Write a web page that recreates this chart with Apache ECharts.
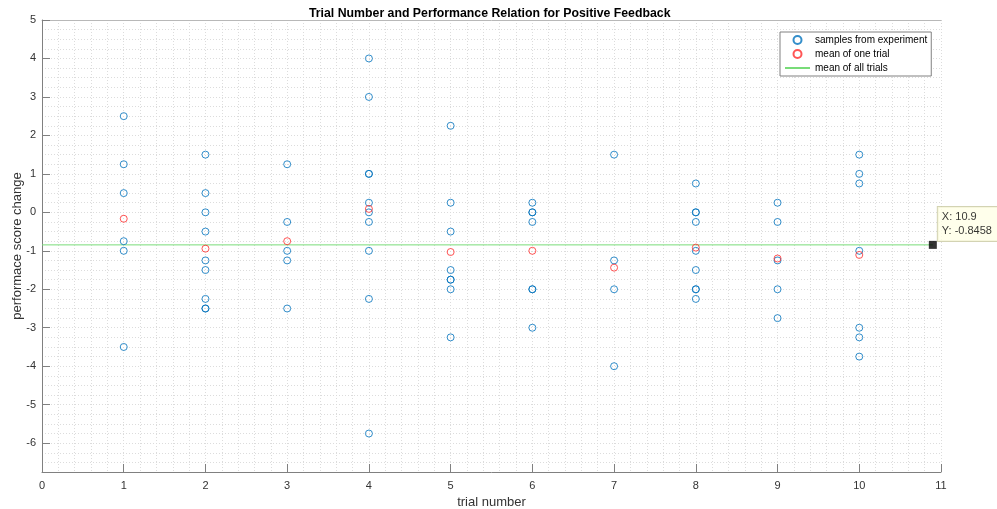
<!DOCTYPE html>
<html>
<head>
<meta charset="utf-8">
<script src="https://cdn.jsdelivr.net/npm/echarts@6/dist/echarts.min.js"></script>
<style>
  html, body { margin: 0; background: #fff; }
  #chart { width: 997px; height: 509px; }
</style>
</head>
<body>
<div id="chart"></div>
<script>
// values
const trialNumbers = [1, 2, 3, 4, 5, 6, 7, 8, 9, 10];
const samplesByTrial = [
  [2.5, 1.25, 0.5, -0.75, -1, -3.5],
  [1.5, 0.5, 0, -0.5, -1.25, -1.5, -2.25, -2.5, -2.5],
  [1.25, -0.25, -1, -1.25, -2.5],
  [4, 3, 1, 1, 0.25, 0, -0.25, -1, -2.25, -5.75],
  [2.25, 0.25, -0.5, -1.5, -1.75, -1.75, -2, -3.25],
  [0.25, 0, 0, -0.25, -2, -2, -3],
  [1.5, -1.25, -2, -4],
  [0.75, 0, 0, -0.25, -1, -1.5, -2, -2, -2.25],
  [0.25, -0.25, -1.25, -2, -2.75],
  [1.5, 1, 0.75, -1, -3, -3.25, -3.75]
];
const trialMeans = [-0.167, -0.944, -0.75, 0.09, -1.031, -1, -1.4375, -0.917, -1.2, -1.107];
const overallMean = -0.8458;
const tipX = 10.9;
const yTickValues = [-6, -5, -4, -3, -2, -1, 0, 1, 2, 3, 4, 5];

const sampleData = [];
samplesByTrial.forEach((list, i) => {
  list.forEach(v => sampleData.push([trialNumbers[i], v]));
});
const meanData = trialMeans.map((v, i) => [trialNumbers[i], v]);

const FONT = 'Liberation Sans, Arial, Helvetica, sans-serif';
const AXIS_GRAY = '#808080';
const GRID_LINE = { show: true, lineStyle: { color: '#dcdcdc', type: [1, 2], width: 1 } };

const chart = echarts.init(document.getElementById('chart'), null, { renderer: 'canvas' });

chart.setOption({
  animation: false,
  backgroundColor: '#fff',
  textStyle: { fontFamily: FONT },
  title: {
    text: 'Trial Number and Performance Relation for Positive Feedback',
    left: 304,
    top: 3,
    textStyle: { fontSize: 12.3, fontWeight: 'bold', color: '#000', fontFamily: FONT }
  },
  grid: { left: 42, right: 56, top: 20, bottom: 37, containLabel: false, outerBoundsMode: 'none' },
  legend: {
    orient: 'vertical',
    left: 780,
    top: 32,
    padding: [3, 4, 3, 4],
    itemGap: 4,
    itemWidth: 25,
    itemHeight: 8,
    backgroundColor: '#fff',
    borderColor: AXIS_GRAY,
    borderWidth: 1,
    textStyle: { fontSize: 10, color: '#000', fontFamily: FONT },
    data: [
      'samples from experiment',
      'mean of one trial',
      { name: 'mean of all trials', itemStyle: { opacity: 0 } }
    ]
  },
  xAxis: [{
    type: 'value',
    min: 0,
    max: 11,
    interval: 1,
    name: 'trial number',
    nameLocation: 'middle',
    nameGap: 23,
    nameTextStyle: { fontSize: 13, color: '#333' },
    axisLine: { show: true, onZero: false, lineStyle: { color: AXIS_GRAY } },
    axisTick: { show: true, inside: true, length: 8, lineStyle: { color: AXIS_GRAY } },
    axisLabel: { color: '#333', fontSize: 11, margin: 8 },
    splitLine: GRID_LINE,
    minorTick: { show: false, splitNumber: 5 },
    minorSplitLine: GRID_LINE
  }, {
    type: 'value',
    position: 'top',
    min: 0,
    max: 11,
    axisLine: { show: true, onZero: false, lineStyle: { color: '#b8b8b8' } },
    axisTick: { show: false },
    axisLabel: { show: false },
    splitLine: { show: false }
  }],
  yAxis: [{
    type: 'value',
    min: -6.75,
    max: 5,
    interval: 0.25,
    axisLine: { show: false, onZero: false },
    axisTick: { show: false },
    axisLabel: { show: false },
    splitLine: GRID_LINE
  }, {
    type: 'value',
    position: 'left',
    min: -6.75,
    max: 5,
    name: 'performace score change',
    nameLocation: 'middle',
    nameGap: 18,
    nameMoveOverlap: false,
    nameTextStyle: { fontSize: 13, color: '#333' },
    axisLine: { show: true, onZero: false, lineStyle: { color: AXIS_GRAY } },
    axisTick: { show: true, inside: true, length: 8, customValues: yTickValues, lineStyle: { color: AXIS_GRAY } },
    axisLabel: { color: '#333', fontSize: 11, margin: 6, customValues: yTickValues },
    splitLine: { show: false }
  }],
  series: [{
    name: 'samples from experiment',
    type: 'scatter',
    symbol: 'circle',
    symbolSize: 7,
    itemStyle: { color: 'rgba(255,255,255,0)', borderColor: '#0072BD', borderWidth: 1 },
    data: sampleData,
    z: 3
  }, {
    name: 'mean of one trial',
    type: 'scatter',
    symbol: 'circle',
    symbolSize: 7,
    itemStyle: { color: 'rgba(255,255,255,0)', borderColor: '#ff2a2a', borderWidth: 1 },
    data: meanData,
    z: 4
  }, {
    name: 'mean of all trials',
    type: 'line',
    symbol: 'none',
    lineStyle: { color: '#78dc78', width: 1 },
    itemStyle: { color: '#78dc78' },
    data: [[0, overallMean], [tipX, overallMean]],
    z: 2
  }, {
    name: 'datatip',
    type: 'scatter',
    symbol: 'rect',
    symbolSize: 8,
    itemStyle: { color: '#000' },
    data: [[tipX, overallMean]],
    z: 6,
    label: {
      show: true,
      position: [9, -34],
      align: 'left',
      verticalAlign: 'top',
      formatter: p => 'X: ' + p.value[0] + '\nY: ' + p.value[1],
      color: '#000',
      fontSize: 11,
      lineHeight: 14,
      backgroundColor: '#ffffe6',
      borderColor: '#c8c8a0',
      borderWidth: 1,
      padding: [3, 10, 3, 4]
    }
  }]
});
</script>
</body>
</html>
